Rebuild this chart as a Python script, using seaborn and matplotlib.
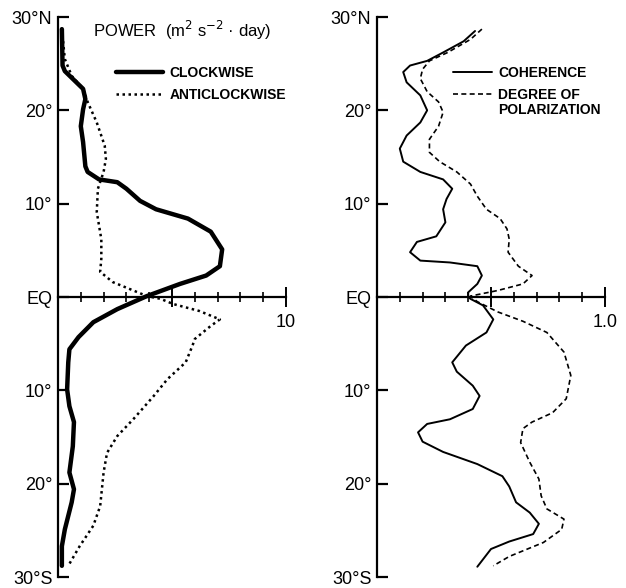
import numpy as np
import pandas as pd
import matplotlib
matplotlib.use("Agg")
import matplotlib.pyplot as plt
import seaborn as sns

# latitude (deg, + = north) and power (m2 s-2 day)
cw_lat = [28.7, 24.8, 24.2, 22.3, 21.2, 20.1, 18.3, 16.6, 14.0, 13.4, 12.6, 12.3, 11.6,
          10.3, 9.4, 8.4, 7.0, 5.1, 3.3, 2.3, 1.4, 0.1, -1.3, -2.7, -4.3, -5.6, -7.0,
          -9.9, -11.7, -13.4, -16.0, -18.8, -20.6, -22.0, -24.9, -26.7, -28.8]
cw_pow = [0.17, 0.2, 0.3, 1.1, 1.2, 1.1, 1.0, 1.1, 1.2, 1.3, 1.8, 2.6, 3.0,
          3.6, 4.3, 5.7, 6.7, 7.2, 7.1, 6.5, 5.35, 3.9, 2.6, 1.55, 0.9, 0.5, 0.45,
          0.4, 0.5, 0.7, 0.65, 0.5, 0.7, 0.6, 0.3, 0.17, 0.17]

acw_lat = [28.7, 25.5, 23.7, 22.3, 20.9, 18.7, 16.2, 14.8, 13.4, 11.6, 9.1, 6.2, 4.1,
           2.7, 1.6, 0.7, 0.1, -0.2, -0.75, -1.5, -2.4, -3.1, -4.5, -5.2, -7.0, -8.8,
           -10.6, -13.1, -14.9, -16.7, -18.8, -22.4, -24.5, -26.7, -28.8]
acw_pow = [0.17, 0.3, 0.6, 1.1, 1.3, 1.7, 2.05, 2.1, 2.0, 1.75, 1.7, 1.9, 1.9,
           1.85, 2.4, 3.3, 3.9, 4.5, 5.05, 6.2, 7.1, 6.7, 6.0, 5.9, 5.6, 4.8,
           4.2, 3.3, 2.6, 2.15, 2.0, 1.85, 1.55, 0.95, 0.45]

# coherence and degree of polarization
coh_lat = [28.5, 27.4, 26.2, 25.3, 24.8, 24.1, 23.0, 21.6, 20.0, 18.7, 17.3, 15.9, 14.5,
           13.4, 12.6, 11.6, 10.5, 9.4, 8.0, 6.5, 5.9, 4.8, 3.9, 3.7, 3.3, 2.3, 1.4,
           0.5, 0.0, -0.2, -0.9, -2.4, -3.8, -5.2, -7.0, -8.0, -9.5, -10.6, -12.0,
           -13.1, -13.6, -14.5, -15.5, -16.6, -17.9, -19.2, -20.3, -22.0, -23.1,
           -24.3, -25.4, -26.2, -27.0, -28.9]
coh_val = [0.43, 0.38, 0.29, 0.22, 0.145, 0.115, 0.13, 0.19, 0.22, 0.19, 0.13, 0.1, 0.115,
           0.19, 0.29, 0.33, 0.305, 0.29, 0.3, 0.26, 0.175, 0.145, 0.19, 0.32, 0.44, 0.46, 0.44,
           0.4, 0.4, 0.41, 0.465, 0.51, 0.48, 0.39, 0.33, 0.35, 0.42, 0.45, 0.42,
           0.32, 0.22, 0.18, 0.2, 0.29, 0.44, 0.55, 0.58, 0.61, 0.67,
           0.71, 0.685, 0.58, 0.5, 0.44]

pol_lat = [28.7, 27.6, 26.2, 25.3, 24.4, 23.4, 22.0, 20.9, 19.8, 18.3, 16.9, 15.5, 14.5,
           13.4, 12.1, 10.8, 9.4, 8.4, 7.3, 6.2, 4.8, 3.3, 2.3, 1.4, 0.7, 0.1,
           -0.5, -1.6, -2.6, -3.8, -5.9, -8.4, -10.9, -12.4, -13.4, -14.1, -15.6,
           -17.7, -19.5, -21.3, -22.7, -23.8, -24.9, -26.3, -27.8, -28.8]
pol_val = [0.46, 0.41, 0.31, 0.23, 0.2, 0.19, 0.22, 0.27, 0.29, 0.27, 0.23, 0.23, 0.275,
           0.35, 0.41, 0.44, 0.48, 0.54, 0.57, 0.58, 0.575, 0.62, 0.68, 0.64, 0.53, 0.41,
           0.44, 0.53, 0.64, 0.745, 0.82, 0.85, 0.83, 0.77, 0.68, 0.64, 0.63,
           0.67, 0.71, 0.72, 0.745, 0.82, 0.81, 0.73, 0.58, 0.51]

lat_ticks = [-30, -20, -10, 0, 10, 20, 30]
lat_labels = ["30°S", "20°", "10°", "EQ", "10°", "20°", "30°N"]

sns.set_style("white")
plt.rcParams["font.family"] = ["Liberation Sans", "DejaVu Sans"]
plt.rcParams["text.color"] = "black"
plt.rcParams["xtick.color"] = "black"
plt.rcParams["ytick.color"] = "black"
plt.rcParams["lines.solid_joinstyle"] = "round"
plt.rcParams["lines.dash_joinstyle"] = "round"

fig = plt.figure(figsize=(6.26, 5.88), dpi=100)
W, H = 626, 588
bottom = 1 - 577 / H
height = 560 / H
ax1 = fig.add_axes([58 / W, bottom, 228 / W, height])
ax2 = fig.add_axes([377 / W, bottom, 228 / W, height])

df_cw = pd.DataFrame({"lat": cw_lat, "val": cw_pow})
df_acw = pd.DataFrame({"lat": acw_lat, "val": acw_pow})
df_coh = pd.DataFrame({"lat": coh_lat, "val": coh_val})
df_pol = pd.DataFrame({"lat": pol_lat, "val": pol_val})

sns.lineplot(data=df_cw, x="val", y="lat", sort=False, estimator=None, ax=ax1,
             color="black", linewidth=3.2, label="CLOCKWISE")
sns.lineplot(data=df_acw, x="val", y="lat", sort=False, estimator=None, ax=ax1,
             color="black", linewidth=1.8, linestyle=(0, (1, 1.4)), label="ANTICLOCKWISE")
sns.lineplot(data=df_coh, x="val", y="lat", sort=False, estimator=None, ax=ax2,
             color="black", linewidth=1.4, label="COHERENCE")
sns.lineplot(data=df_pol, x="val", y="lat", sort=False, estimator=None, ax=ax2,
             color="black", linewidth=1.2, linestyle=(0, (3, 2)), label="DEGREE OF")

for ax, xmax in [(ax1, 10), (ax2, 1.0)]:
    ax.set_xlim(0, xmax)
    ax.set_ylim(-30, 30)
    ax.set_xlabel("")
    ax.set_ylabel("")
    for s in ["top", "right"]:
        ax.spines[s].set_visible(False)
    ax.spines["left"].set_linewidth(1.6)
    ax.spines["left"].set_color("black")
    ax.spines["bottom"].set_position(("data", 0))
    ax.spines["bottom"].set_linewidth(1.6)
    ax.spines["bottom"].set_color("black")
    ax.set_yticks(lat_ticks)
    ax.set_yticklabels(lat_labels, fontsize=13)
    ax.tick_params(axis="y", direction="in", length=8, width=1.6, pad=4, left=True)
    ax.set_xticks([xmax / 2, xmax])
    ax.set_xticklabels(["", "10" if xmax == 10 else "1.0"], fontsize=13)
    ax.set_xticks(np.linspace(0, xmax, 11)[1:], minor=True)
    ax.tick_params(axis="x", which="major", direction="inout", length=14, width=1.4,
                   pad=5, bottom=True)
    ax.tick_params(axis="x", which="minor", direction="inout", length=7, width=1.2,
                   bottom=True)
    ax.set_facecolor("white")

leg1 = ax1.legend(loc="upper left", bbox_to_anchor=(0.2, 0.935), frameon=False,
                  handlelength=3.4, handletextpad=0.45, labelspacing=0.55,
                  prop={"weight": "bold", "size": 10})
leg2 = ax2.legend(loc="upper left", bbox_to_anchor=(0.28, 0.935), frameon=False,
                  handlelength=2.8, handletextpad=0.45, labelspacing=0.55,
                  prop={"weight": "bold", "size": 10})
for t in leg1.get_texts() + leg2.get_texts():
    t.set_color("black")

fig.text(93 / W, 1 - 30 / H, "POWER  (m$^2$ s$^{-2}$ · day)", fontsize=12,
         ha="left", va="center")
fig.text(498 / W, 1 - 110 / H, "POLARIZATION", fontsize=10, fontweight="bold",
         ha="left", va="center")

fig.savefig("out.png", dpi=100)
